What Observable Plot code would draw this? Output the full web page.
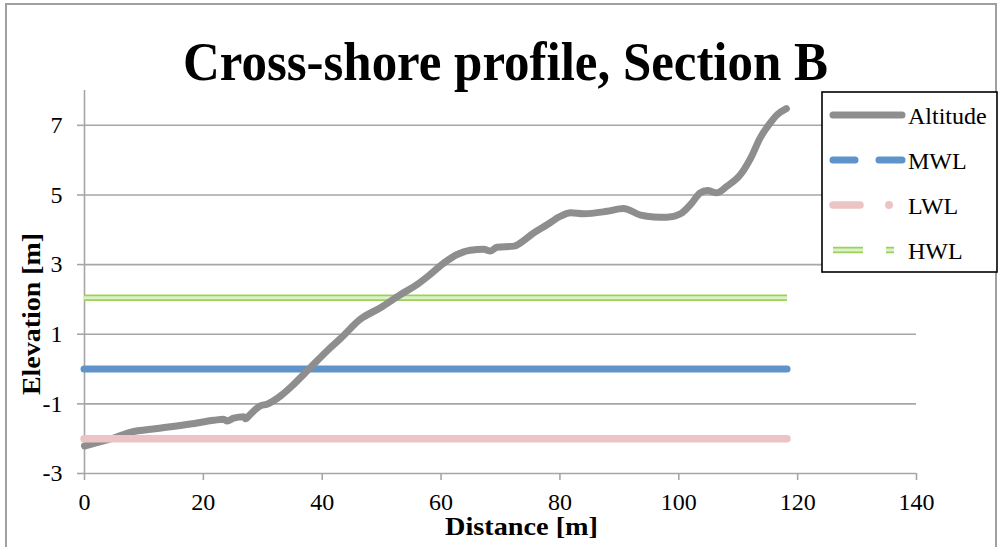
<!DOCTYPE html>
<html>
<head>
<meta charset="utf-8">
<script src="https://cdn.jsdelivr.net/npm/d3@7"></script>
<script src="https://cdn.jsdelivr.net/npm/@observablehq/plot@0.6"></script>
<style>
  html, body { margin: 0; padding: 0; background: #fff; }
  #chart svg { display: block; }
</style>
</head>
<body>
<div id="chart"></div>
<script>
// Surveyed beach profile (distance along section, elevation)
const distance = [0, 4.9, 7.7, 12.2, 17.8, 21.8, 23.4, 24.0, 25.1, 26.8, 27.1, 27.9, 29.6, 30.7,
  33.0, 35.2, 38.0, 40.8, 43.1, 46.4, 49.8, 53.2, 56.0, 58.2, 60.5, 62.7, 64.9, 67.2, 68.3,
  69.4, 72.3, 73.4, 75.6, 77.9, 80.1, 81.8, 84.0, 87.9, 90.7, 93.6, 95.8, 98.0, 100.3, 102.0,
  103.6, 104.8, 106.4, 108.1, 110.4, 112.1, 113.7, 115.4, 116.6, 118.1];
const altitude = [-2.21, -1.98, -1.82, -1.71, -1.58, -1.47, -1.44, -1.49, -1.41, -1.37, -1.43, -1.30, -1.06, -1.01,
  -0.77, -0.44, 0.04, 0.52, 0.88, 1.43, 1.76, 2.14, 2.43, 2.72, 3.05, 3.29, 3.41, 3.44, 3.39,
  3.50, 3.53, 3.63, 3.91, 4.15, 4.39, 4.49, 4.46, 4.53, 4.61, 4.42, 4.37, 4.36, 4.46, 4.73,
  5.06, 5.13, 5.06, 5.25, 5.59, 6.06, 6.64, 7.07, 7.31, 7.48];

// Reference water levels, drawn over the surveyed stretch
const levelNames = ["MWL", "LWL", "HWL"];
const levelValues = [0, -2, 2.05];
const levelStart = 0;
const levelEnd = 118.3;

const seriesNames = ["Altitude", "MWL", "LWL", "HWL"];
const xTicks = [0, 20, 40, 60, 80, 100, 120, 140];
const yTicks = [-3, -1, 1, 3, 5, 7];
const titleText = "Cross-shore profile, Section B";
const xLabel = "Distance [m]";
const yLabel = "Elevation [m]";

const profile = distance.map((x, i) => ({x, y: altitude[i]}));
const levels = levelNames.map((name, i) => ({name, y: levelValues[i], x1: levelStart, x2: levelEnd}));
const level = name => levels.filter(d => d.name === name);

const colors = {Altitude: "#8e8e8e", MWL: "#5f93c9", LWL: "#ecc4c4", HWL: "#9bd05c", HWLinner: "#def0c8"};
const gridColor = "#a6a6a6";
const serif = "'Liberation Serif', 'Times New Roman', serif";

const chart = Plot.plot({
  width: 999,
  height: 547,
  marginLeft: 84,
  marginRight: 83,
  marginTop: 90,
  marginBottom: 74,
  x: {domain: [0, 140], label: null},
  y: {domain: [-3, 8], label: null},
  style: {fontFamily: serif, background: "white", color: "black"},
  marks: [
    Plot.gridY(yTicks, {stroke: gridColor, strokeOpacity: 1, strokeWidth: 1.6}),
    Plot.ruleX([0], {stroke: gridColor, strokeWidth: 1.6}),
    Plot.axisY(yTicks, {tickSize: 7, tickPadding: 15, stroke: gridColor, strokeWidth: 1.6, fill: "black",
      fontSize: 24, tickFormat: d => String(d), label: null}),
    Plot.axisX(xTicks, {tickSize: 7, tickPadding: 12, stroke: gridColor, strokeWidth: 1.6, fill: "black",
      fontSize: 24, tickFormat: d => String(d), label: null}),
    // MWL
    Plot.ruleY(level("MWL"), {y: "y", x1: "x1", x2: "x2", stroke: colors.MWL, strokeWidth: 7, strokeLinecap: "round"}),
    // HWL: double line
    Plot.ruleY(level("HWL"), {y: "y", x1: "x1", x2: "x2", stroke: colors.HWL, strokeWidth: 6.5}),
    Plot.ruleY(level("HWL"), {y: "y", x1: "x1", x2: "x2", stroke: colors.HWLinner, strokeWidth: 3}),
    // Surveyed profile
    Plot.line(profile, {x: "x", y: "y", stroke: colors.Altitude, strokeWidth: 7,
      strokeLinecap: "round", strokeLinejoin: "round", curve: "monotone-x"}),
    // LWL
    Plot.ruleY(level("LWL"), {y: "y", x1: "x1", x2: "x2", stroke: colors.LWL, strokeWidth: 7.5, strokeLinecap: "round"})
  ]
});

document.getElementById("chart").appendChild(chart);

const svg = d3.select(chart);

// Outer chart border
svg.append("rect")
  .attr("x", 6).attr("y", 4).attr("width", 990).attr("height", 560)
  .attr("fill", "none").attr("stroke", "#a0a0a0").attr("stroke-width", 2);

// Title
svg.append("text")
  .attr("x", 505.5).attr("y", 80)
  .attr("text-anchor", "middle")
  .attr("font-family", serif).attr("font-weight", "bold").attr("font-size", 54)
  .attr("textLength", 645).attr("lengthAdjust", "spacingAndGlyphs")
  .attr("fill", "black")
  .text(titleText);

// Axis titles
svg.append("text")
  .attr("x", 521.5).attr("y", 535)
  .attr("text-anchor", "middle")
  .attr("font-family", serif).attr("font-weight", "bold").attr("font-size", 26)
  .attr("textLength", 153).attr("lengthAdjust", "spacingAndGlyphs")
  .attr("fill", "black")
  .text(xLabel);

svg.append("text")
  .attr("transform", "translate(40,314) rotate(-90)")
  .attr("text-anchor", "middle")
  .attr("font-family", serif).attr("font-weight", "bold").attr("font-size", 26)
  .attr("textLength", 162).attr("lengthAdjust", "spacingAndGlyphs")
  .attr("fill", "black")
  .text(yLabel);

// Legend
const legend = svg.append("g");
legend.append("rect")
  .attr("x", 822).attr("y", 92).attr("width", 175).attr("height", 180)
  .attr("fill", "white").attr("stroke", "black").attr("stroke-width", 1.6);

const seg = (g, x1, x2, cy, stroke, width, cap) => g.append("line")
  .attr("x1", x1).attr("x2", x2).attr("y1", cy).attr("y2", cy)
  .attr("stroke", stroke).attr("stroke-width", width).attr("stroke-linecap", cap);

seriesNames.forEach((name, i) => {
  const cy = 115 + i * 45;
  const g = legend.append("g");
  if (name === "Altitude") {
    seg(g, 833, 902, cy, colors.Altitude, 7, "round");
  } else if (name === "MWL") {
    seg(g, 833, 855, cy, colors.MWL, 7, "round");
    seg(g, 879, 902, cy, colors.MWL, 7, "round");
  } else if (name === "LWL") {
    seg(g, 833, 860, cy, colors.LWL, 7.5, "round");
    g.append("circle").attr("cx", 889).attr("cy", cy).attr("r", 4).attr("fill", colors.LWL);
  } else {
    seg(g, 833, 863, cy, colors.HWL, 6.5, "butt");
    seg(g, 833, 863, cy, colors.HWLinner, 3, "butt");
    seg(g, 886, 894, cy, colors.HWL, 6.5, "butt");
    seg(g, 886, 894, cy, colors.HWLinner, 3, "butt");
  }
  g.append("text")
    .attr("x", 908).attr("y", cy + 9)
    .attr("text-anchor", "start")
    .attr("font-family", serif).attr("font-size", 24).attr("fill", "black")
    .text(name);
});
</script>
</body>
</html>
